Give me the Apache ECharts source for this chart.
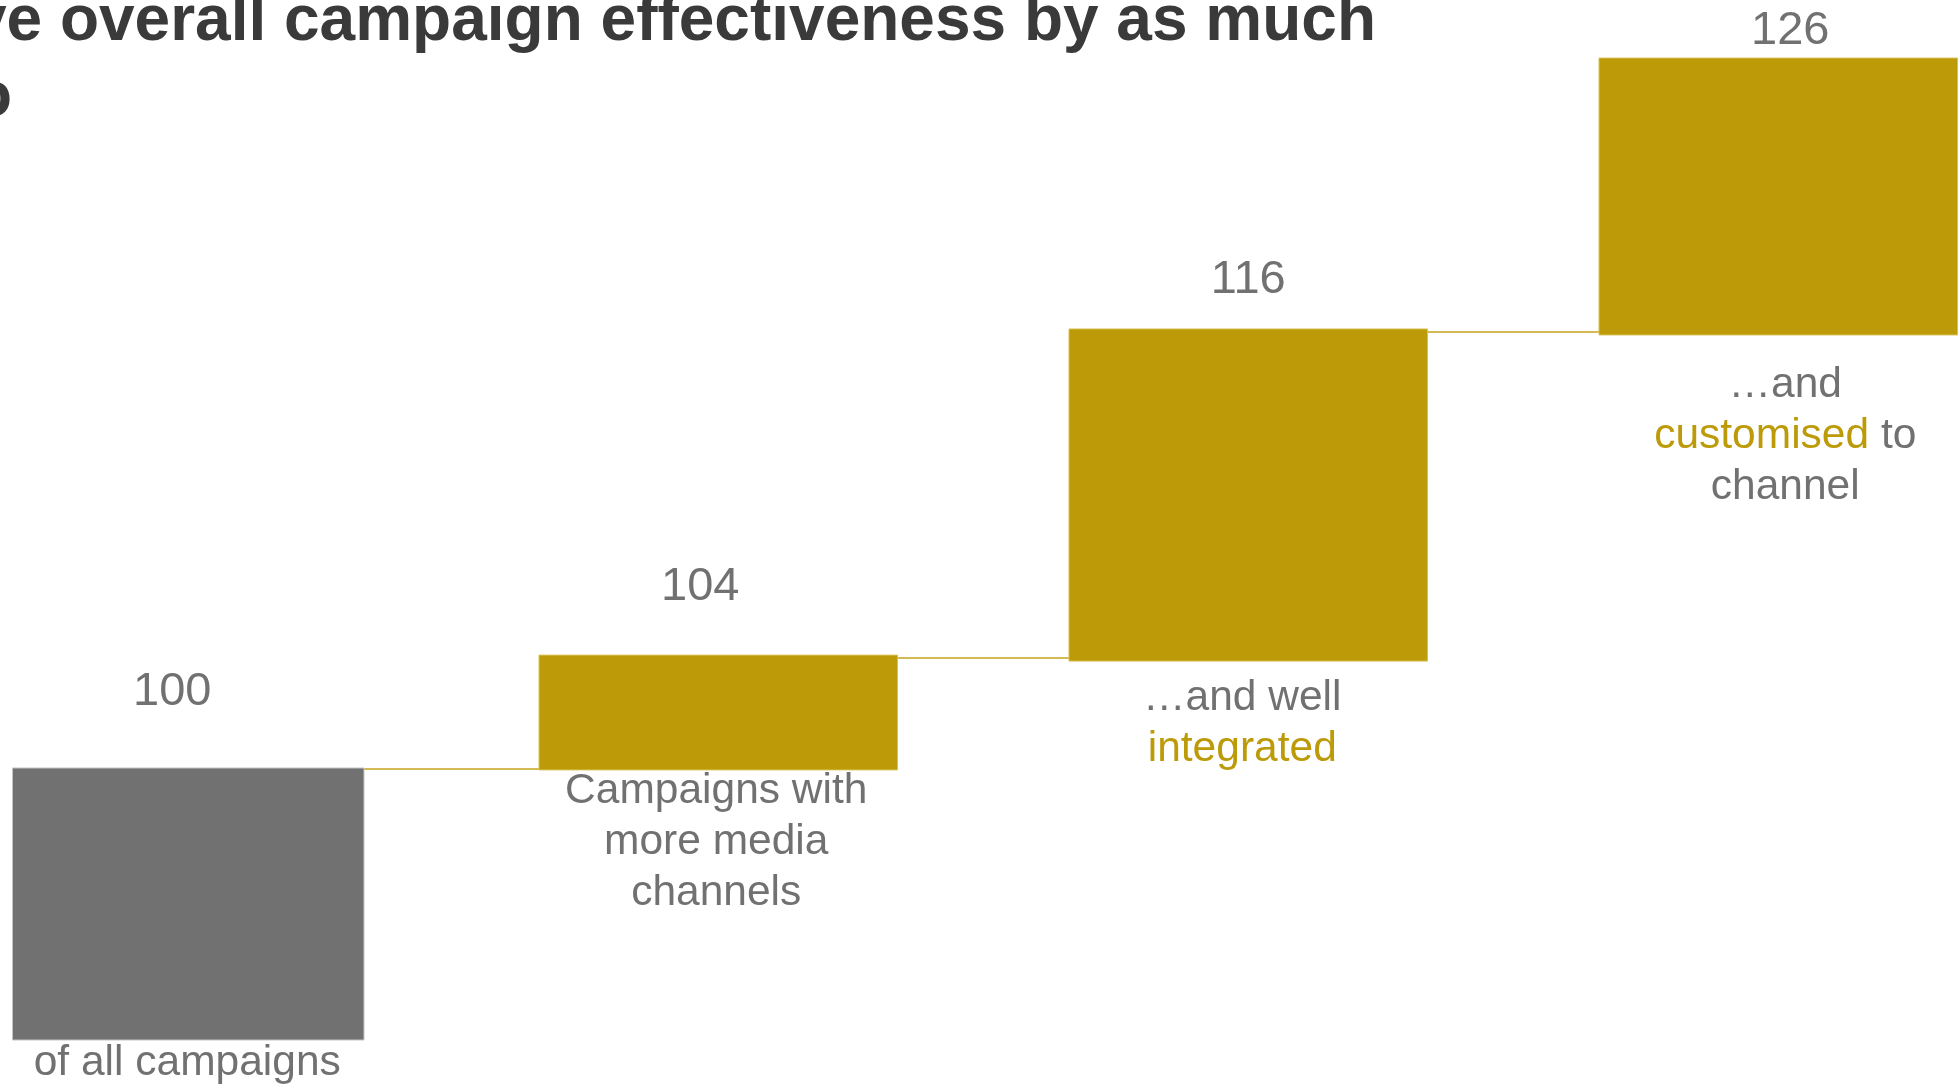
<!DOCTYPE html>
<html>
<head>
<meta charset="utf-8">
<script src="https://cdn.jsdelivr.net/npm/echarts@6/dist/echarts.min.js"></script>
<style>
html,body{margin:0;padding:0;background:#ffffff;overflow:hidden;}
#chart{width:1959px;height:1084px;}
</style>
</head>
<body>
<div id="chart"></div>
<script>
// ---------- data ----------
const categories = [
  'of all campaigns',
  'Campaigns with\nmore media\nchannels',
  '\u2026and well\n{hl|integrated}',
  '\u2026and\n{hl|customised} to\nchannel'
];
const indexValues = [100, 104, 116, 126];
// drawn extent of each block on the (hidden) index axis
const barBottom = [0, 99.3, 139.3, 259.2];
const barTop = [100, 141.5, 261.4, 361.0];
const titleLine1 = 'improve overall campaign effectiveness by as much';
const titleLine2 = 'to';

// ---------- styling ----------
const GOLD = '#BC9A08';
const GREY = '#717171';
const TEXT = '#717171';
const TITLE = '#3A3A3A';
const LINE = '#C6A319';
const FONT = '"Liberation Sans", Arial, Helvetica, sans-serif';
const barColors = [GREY, GOLD, GOLD, GOLD];
const barBorders = ['#C4C4C4', '#D9C052', '#D9C052', '#D9C052'];
const barHalfWidth = [0.3316, 0.3382, 0.3382, 0.3382];
// [dx px, baseline gap above block top px]
const valueLabelOffset = [[-16, 60], [-18, 52], [0, 33], [12, 10.5]];
// [dx px, first baseline below block bottom px]
const catLabelOffset = [[-1, 38], [-2, 36], [-6, 52], [7, 65]];
const VAL_FS = 47, CAT_FS = 42.5, CAT_LH = 51, MID = 0.3465;

function renderItem(params, api) {
  const i = api.value(0);
  const lo = api.value(1);
  const hi = api.value(2);
  const hw = barHalfWidth[i];
  const tl = api.coord([i - hw, hi]);
  const br = api.coord([i + hw, lo]);
  const topC = api.coord([i, hi]);
  const botC = api.coord([i, lo]);
  const children = [];
  if (i < barTop.length - 1) {
    const lvl = (hi + barBottom[i + 1]) / 2;
    const a = api.coord([i + hw, lvl]);
    const b = api.coord([i + 1 - barHalfWidth[i + 1], lvl]);
    children.push({
      type: 'line',
      shape: { x1: a[0], y1: a[1], x2: b[0], y2: b[1] },
      style: { stroke: LINE, lineWidth: 1.5 }
    });
  }
  children.push({
    type: 'rect',
    shape: { x: tl[0], y: tl[1], width: br[0] - tl[0], height: br[1] - tl[1] },
    style: { fill: barColors[i], stroke: barBorders[i], lineWidth: 1 }
  });
  const vo = valueLabelOffset[i];
  children.push({
    type: 'text',
    x: topC[0] + vo[0],
    y: topC[1] - vo[1] - MID * VAL_FS,
    style: {
      text: String(indexValues[i]),
      fontSize: VAL_FS, fontFamily: FONT, fill: TEXT,
      align: 'center', verticalAlign: 'middle',
      textAlign: 'center', textVerticalAlign: 'middle'
    }
  });
  const co = catLabelOffset[i];
  children.push({
    type: 'text',
    x: botC[0] + co[0],
    y: botC[1] + co[1] - MID * CAT_FS - CAT_LH / 2,
    style: {
      text: categories[i],
      fontSize: CAT_FS, fontFamily: FONT, fill: TEXT,
      lineHeight: CAT_LH,
      align: 'center', verticalAlign: 'top',
      textAlign: 'center', textVerticalAlign: 'top',
      rich: {
        hl: { fill: GOLD, color: GOLD, fontSize: CAT_FS, fontFamily: FONT, lineHeight: CAT_LH }
      }
    }
  });
  return { type: 'group', children: children };
}

const chart = echarts.init(document.getElementById('chart'), null, { renderer: 'canvas' });
chart.setOption({
  animation: false,
  backgroundColor: '#ffffff',
  grid: { left: 0, right: 0, top: 0, bottom: 0, containLabel: false },
  xAxis: { type: 'value', min: -0.35519, max: 3.34104, show: false },
  yAxis: { type: 'value', min: -16.18, max: 382.35, show: false },
  graphic: [
    {
      type: 'text', x: 1376, y: 45 - MID * 64,
      style: {
        text: titleLine1, fontSize: 64, fontWeight: 'bold', fontFamily: FONT, fill: TITLE,
        align: 'right', verticalAlign: 'middle', textAlign: 'right', textVerticalAlign: 'middle'
      }
    },
    {
      type: 'text', x: 12, y: 121 - MID * 64,
      style: {
        text: titleLine2, fontSize: 64, fontWeight: 'bold', fontFamily: FONT, fill: TITLE,
        align: 'right', verticalAlign: 'middle', textAlign: 'right', textVerticalAlign: 'middle'
      }
    }
  ],
  series: [{
    type: 'custom',
    renderItem: renderItem,
    clip: false,
    silent: true,
    data: categories.map(function (c, i) { return [i, barBottom[i], barTop[i]]; })
  }]
});
</script>
</body>
</html>
